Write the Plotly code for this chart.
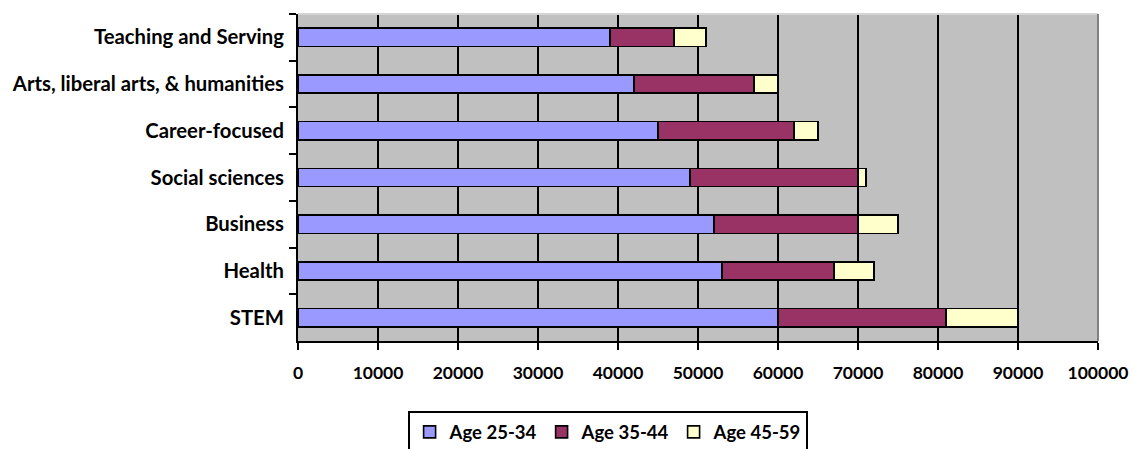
import plotly.graph_objects as go

# Fields of study, listed top to bottom
categories = [
    "Teaching and Serving",
    "Arts, liberal arts, & humanities",
    "Career-focused",
    "Social sciences",
    "Business",
    "Health",
    "STEM",
]

# Stacked segments for each age group
age_25_34 = [39000, 42000, 45000, 49000, 52000, 53000, 60000]
age_35_44 = [8000, 15000, 17000, 21000, 18000, 14000, 21000]
age_45_59 = [4000, 3000, 3000, 1000, 5000, 5000, 9000]

series_names = ["Age 25-34", "Age 35-44", "Age 45-59"]
series_colors = ["#9999FF", "#993366", "#FFFFCC"]

x_ticks = [0, 10000, 20000, 30000, 40000, 50000, 60000, 70000, 80000, 90000, 100000]

FONT = "Lato"

fig = go.Figure()
for name, vals, color in zip(series_names, [age_25_34, age_35_44, age_45_59], series_colors):
    fig.add_trace(go.Bar(
        name=name,
        y=categories,
        x=vals,
        orientation="h",
        width=0.39,
        marker=dict(color=color, line=dict(color="black", width=1.6)),
    ))

fig.update_layout(
    width=1133,
    height=449,
    barmode="stack",
    margin=dict(l=298, r=35, t=14, b=108, autoexpand=False),
    paper_bgcolor="white",
    plot_bgcolor="#C0C0C0",
    font=dict(family=FONT, size=16, color="black", weight="bold"),
    showlegend=True,
    legend=dict(
        orientation="h",
        x=0.387,
        xanchor="center",
        y=-0.215,
        yanchor="top",
        bordercolor="black",
        borderwidth=2,
        bgcolor="white",
        font=dict(family=FONT, size=18.5, color="black", weight="bold"),
        itemwidth=30,
        entrywidth=87,
        traceorder="normal",
    ),
    xaxis=dict(
        range=[0, 100000],
        tickvals=x_ticks,
        ticktext=[str(v) for v in x_ticks],
        showgrid=True,
        gridcolor="black",
        gridwidth=2,
        zeroline=False,
        showline=True,
        linecolor="black",
        linewidth=2,
        ticks="outside",
        ticklen=7,
        tickwidth=2,
        tickcolor="black",
        ticklabelstandoff=8,
        tickfont=dict(family=FONT, size=17.5, color="black", weight="bold"),
        fixedrange=True,
    ),
    yaxis=dict(
        autorange="reversed",
        type="category",
        tickson="boundaries",
        showgrid=False,
        showline=True,
        linecolor="black",
        linewidth=2,
        ticks="outside",
        ticklen=7,
        tickwidth=2,
        tickcolor="black",
        ticklabelstandoff=8,
        tickfont=dict(family=FONT, size=20.3, color="black", weight="bold"),
        fixedrange=True,
    ),
)

# Plot-area frame: light top edge, darker right edge
fig.add_shape(type="line", xref="paper", yref="paper", x0=0, x1=1, y0=1, y1=1,
              line=dict(color="#D4D4D4", width=2))
fig.add_shape(type="line", xref="paper", yref="paper", x0=1, x1=1, y0=0, y1=1,
              line=dict(color="#808080", width=2))

fig.write_html("out.html")
